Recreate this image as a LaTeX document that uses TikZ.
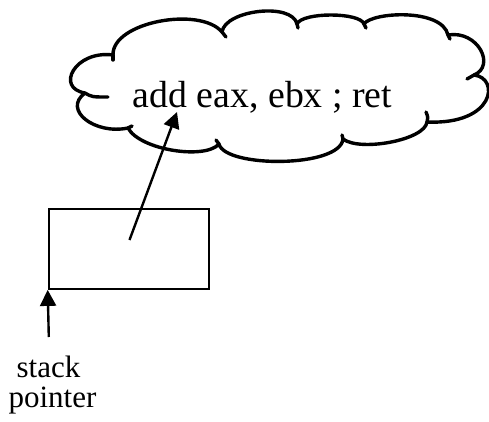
\documentclass[tikz,border=0pt]{standalone}
\usepackage{fontspec}
\setmainfont{Liberation Serif}
\usetikzlibrary{arrows.meta}
\begin{document}
\begin{tikzpicture}[x=1pt,y=-1pt,
  cloudline/.style={line width=3.4pt,line cap=round,line join=round},
  boxline/.style={line width=2.2pt},
  ptr/.style={line width=2.4pt,-{Triangle[length=16pt,width=16pt]}},
  codetext/.style={font=\fontsize{37.8}{40}\selectfont,inner sep=0pt,anchor=base},
  labeltext/.style={font=\fontsize{31}{34}\selectfont,inner sep=0pt,anchor=base}]
\useasboundingbox (0,0) rectangle (489,421);
% cloud outline
\draw[cloudline]
  (113,55) .. controls (112,22) and (200,6) .. (222,32)
  (222,32) .. controls (225,10) and (292,2) .. (297,24)
  (297,24) .. controls (302,12) and (360,12) .. (364,24)
  (364,24) .. controls (372,12) and (442,8) .. (448,35)
  (448,35) .. controls (478,30) and (496,66) .. (474,75)
  (474,75) .. controls (500,78) and (495,125) .. (427,122)
  (427,122) .. controls (425,140) and (360,152) .. (343,139)
  (343,139) .. controls (340,168) and (225,168) .. (219,144)
  (219,144) .. controls (205,160) and (140,150) .. (128,128)
  (128,128) .. controls (95,135) and (62,110) .. (85,93)
  (85,93) .. controls (55,88) and (75,50) .. (113,55);
% cloud hooks
\draw[cloudline] (85,93) .. controls (92,97) .. (108,97);
\draw[cloudline] (113,55) -- (113,60);
\draw[cloudline] (222,32) .. controls (224,34) .. (226,37);
\draw[cloudline] (297,24) -- (298,28);
\draw[cloudline] (364,24) -- (366,28);
\draw[cloudline] (448,35) -- (450,39);
\draw[cloudline] (474,75) .. controls (471,77) .. (467,79);
\draw[cloudline] (427,122) .. controls (428,117) .. (426,112);
\draw[cloudline] (343,139) -- (342,135);
\draw[cloudline] (219,144) -- (216,140);
\draw[cloudline] (128,128) -- (132,126);
\node[codetext] (code) at (262.5,107) {add eax, ebx ; ret};
% stack frame box
\node[boxline,draw,minimum width=160pt,minimum height=80pt,inner sep=0pt] (box) at (128.8,248.8) {};
\coordinate (pstart) at (129.5,240);
\coordinate (ptarget) at (177,112);
\draw[ptr] (pstart) -- (ptarget);
\coordinate (spstart) at (48.8,337);
\draw[ptr] (spstart) -- (box.south west);
\node[labeltext] (lstack) at (48.5,377.5) {stack};
\node[labeltext] (lpointer) at (52.5,407.5) {pointer};
\end{tikzpicture}
\end{document}
